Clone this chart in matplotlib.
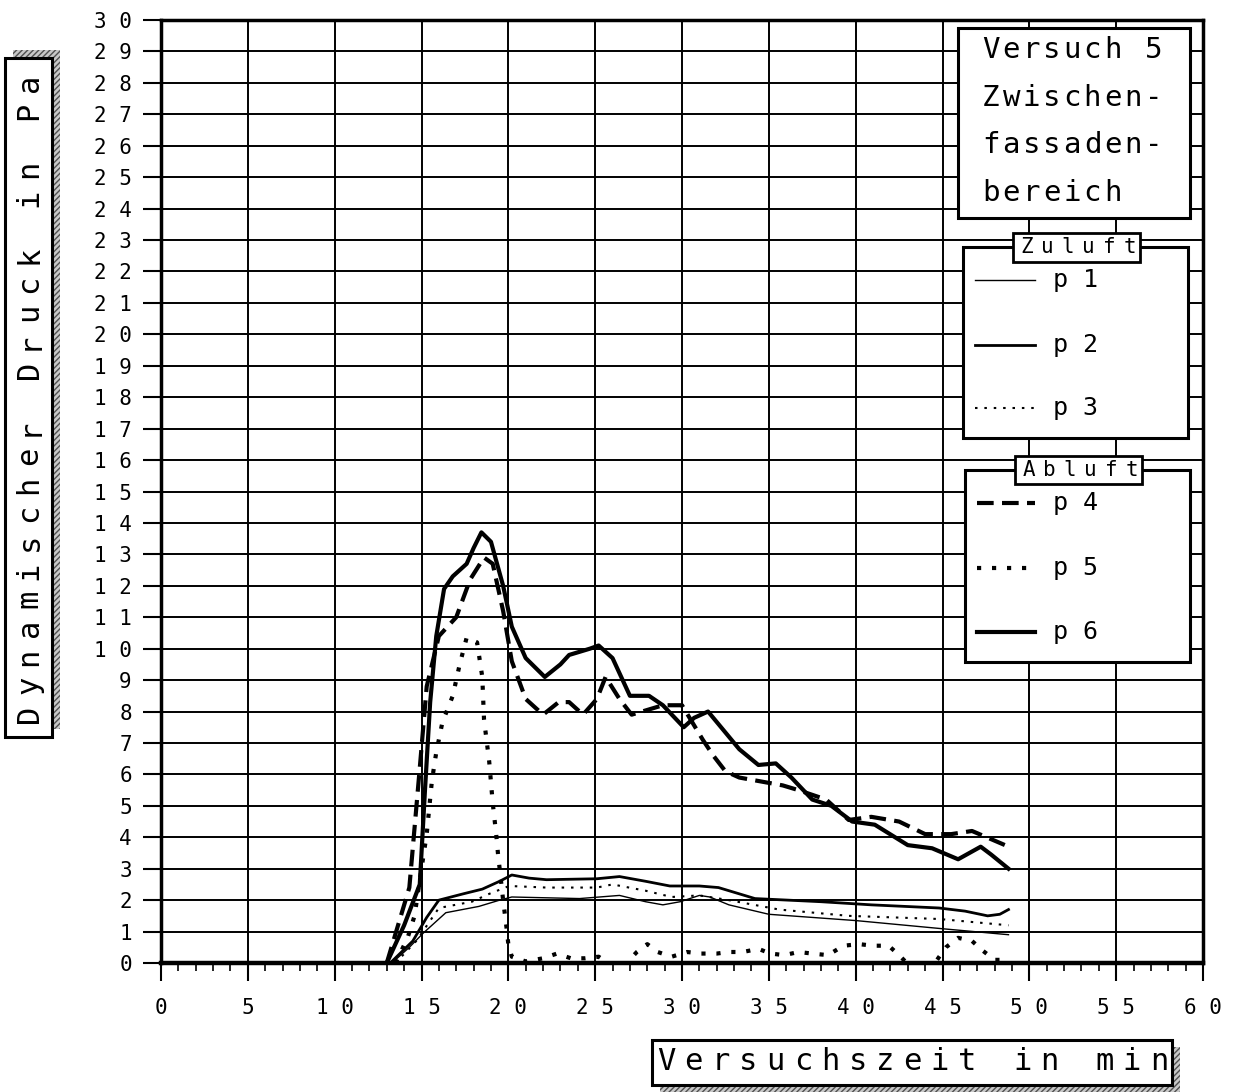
import matplotlib
matplotlib.use("Agg")
import matplotlib.pyplot as plt
from matplotlib.patches import Rectangle
from matplotlib.lines import Line2D

# ---------------- data ----------------
p1_t = [13.3, 14.3, 15.1, 16.4, 18.3, 19.5, 20.2, 24.1, 26.4, 27.9, 28.9, 29.9, 31.0, 31.6, 32.7, 35.0, 40.0, 44.8, 48.8]
p1_v = [0.0, 0.5, 0.95, 1.6, 1.8, 2.0, 2.1, 2.05, 2.15, 1.95, 1.85, 1.95, 2.15, 2.1, 1.85, 1.55, 1.35, 1.1, 0.9]

p2_t = [13.2, 14.5, 15.3, 16.0, 17.4, 18.5, 19.5, 20.2, 21.2, 22.2, 25.1, 26.4, 27.9, 29.3, 31.0, 32.1, 34.2, 38.0, 40.9, 44.8, 46.3, 47.6, 48.3, 48.8]
p2_v = [0.0, 0.7, 1.45, 2.0, 2.2, 2.35, 2.6, 2.8, 2.7, 2.65, 2.68, 2.75, 2.6, 2.45, 2.45, 2.4, 2.05, 1.95, 1.85, 1.75, 1.65, 1.5, 1.55, 1.7]

p3_t = [13.5, 14.7, 16.0, 17.9, 18.9, 20.05, 22.2, 25.1, 26.0, 27.9, 29.4, 31.0, 32.7, 35.6, 39.6, 44.8, 48.8]
p3_v = [0.0, 0.7, 1.75, 1.95, 2.2, 2.45, 2.4, 2.4, 2.5, 2.3, 2.1, 2.15, 2.0, 1.7, 1.5, 1.4, 1.2]

p4_t = [13.0, 14.3, 14.9, 15.3, 16.0, 17.0, 17.8, 18.6, 19.1, 19.7, 20.2, 21.0, 22.0, 22.9, 23.5, 24.3, 25.1, 25.6, 26.4, 27.1,
        28.9, 30.0, 31.2, 31.8, 32.5, 33.3, 35.8, 36.7, 38.3, 39.6, 40.9, 42.5, 44.0, 45.5, 46.7, 48.6]
p4_v = [0.0, 2.4, 6.2, 8.8, 10.4, 11.0, 12.2, 12.9, 12.7, 11.2, 9.6, 8.4, 7.9, 8.3, 8.3, 7.9, 8.4, 9.1, 8.4, 7.9,
        8.2, 8.2, 7.1, 6.6, 6.1, 5.9, 5.65, 5.5, 5.2, 4.55, 4.65, 4.5, 4.1, 4.1, 4.2, 3.75]

p5_t = [13.5, 14.2, 14.6, 15.0, 15.3, 15.6, 15.85, 16.2, 16.8, 17.2, 17.6, 18.2, 18.5, 18.6, 18.9, 19.1, 19.3, 19.4, 19.7,
        19.9, 20.0, 20.2, 21.0, 22.0, 22.8, 23.6, 24.4, 25.2, 26.0, 26.8, 27.4, 28.0, 28.6, 29.4, 30.3, 31.1, 32.0, 32.7,
        33.5, 34.4, 35.1, 35.9, 36.7, 37.5, 38.4, 39.3, 40.2, 41.0, 41.9, 42.5, 43.3, 44.3, 45.2, 45.9, 46.7, 47.3, 48.0, 48.7]
p5_v = [0.0, 0.8, 1.5, 3.0, 4.1, 5.8, 6.7, 7.65, 8.5, 9.5, 10.35, 10.2, 9.1, 7.75, 6.4, 5.1, 4.1, 3.5, 2.0,
        1.1, 0.6, 0.2, 0.05, 0.15, 0.3, 0.15, 0.15, 0.2, -0.1, 0.0, 0.35, 0.6, 0.35, 0.2, 0.35, 0.3, 0.3, 0.35,
        0.35, 0.45, 0.3, 0.25, 0.35, 0.3, 0.25, 0.55, 0.6, 0.55, 0.55, 0.25, -0.2, -0.2, 0.5, 0.8, 0.7, 0.4, 0.1, 0.1]

p6_t = [13.0, 14.0, 14.9, 15.2, 15.5, 15.85, 16.3, 16.8, 17.6, 18.0, 18.45, 19.0, 19.4, 19.7, 20.2, 21.0, 22.1, 23.0, 23.5,
        24.7, 25.2, 26.0, 27.0, 28.1, 28.9, 30.1, 30.7, 31.5, 32.7, 33.3, 34.4, 35.4, 36.3, 37.5, 38.6, 39.8, 41.1, 43.0,
        44.4, 45.9, 47.2, 47.8, 48.8]
p6_v = [0.0, 1.2, 2.5, 5.5, 8.3, 10.4, 11.9, 12.3, 12.7, 13.2, 13.7, 13.4, 12.6, 12.0, 10.7, 9.7, 9.1, 9.5, 9.8,
        10.0, 10.1, 9.7, 8.5, 8.5, 8.2, 7.5, 7.8, 8.0, 7.2, 6.8, 6.3, 6.35, 5.9, 5.2, 5.0, 4.5, 4.4, 3.75,
        3.65, 3.3, 3.7, 3.45, 3.0]

x_ticks = list(range(0, 61, 5))
x_tick_labels = ["0", "5", "1 0", "1 5", "2 0", "2 5", "3 0", "3 5", "4 0", "4 5", "5 0", "5 5", "6 0"]
y_ticks = list(range(0, 31))
y_tick_labels = [str(v) if v < 10 else f"{v // 10} {v % 10}" for v in y_ticks]

series_names = ["p 1", "p 2", "p 3", "p 4", "p 5", "p 6"]
title_lines = ["Versuch 5", "Zwischen-", "fassaden-", "bereich"]
group_titles = ["Zuluft", "Abluft"]
x_label = "Versuchszeit in min"
y_label = "Dynamischer Druck in Pa"

# ---------------- styles ----------------
styles = [
    dict(color="black", lw=1.0, ls="-"),
    dict(color="black", lw=2.0, ls="-"),
    dict(color="black", lw=1.5, ls=(0, (1.2, 3.3)), dash_capstyle="butt"),
    dict(color="black", lw=3.0, ls=(0, (4, 2)), dash_capstyle="butt"),
    dict(color="black", lw=3.0, ls=(0, (1, 2.6)), dash_capstyle="butt"),
    dict(color="black", lw=3.0, ls="-"),
]

W, H = 1234, 1092
MONO = "DejaVu Sans Mono"
plt.rcParams["font.family"] = [MONO, "DejaVu Sans"]

fig = plt.figure(figsize=(W / 100, H / 100), dpi=100)
fig.patch.set_facecolor("white")
ax = fig.add_axes([161 / W, 1 - 963 / H, (1203 - 161) / W, (963 - 20) / H])

series = [(p1_t, p1_v), (p2_t, p2_v), (p3_t, p3_v), (p4_t, p4_v), (p5_t, p5_v), (p6_t, p6_v)]
for (t, v), st in zip(series, styles):
    ax.plot(t, v, solid_joinstyle="round", zorder=3, **st)

ax.set_xlim(0, 60)
ax.set_ylim(0, 30)
ax.set_xticks(x_ticks)
ax.set_xticklabels(x_tick_labels, fontsize=15, family=MONO)
ax.set_xticks(range(0, 61), minor=True)
ax.set_yticks(y_ticks)
ax.set_yticklabels(y_tick_labels, fontsize=15, family=MONO)
ax.tick_params(axis="x", which="major", direction="out", length=13, width=1.5, pad=12)
ax.tick_params(axis="x", which="minor", direction="out", length=6, width=1.2)
ax.tick_params(axis="y", which="major", direction="out", length=13, width=1.5, pad=8)
ax.grid(True, which="major", color="black", lw=1.4)
for side, sp in ax.spines.items():
    sp.set_linewidth(2.5)
ax.spines["bottom"].set_linewidth(3.2)


def fx(x):
    return x / W


def fy(y):
    return 1 - y / H


def box(x1, y1, x2, y2, lw=2.2, z=5, shadow=None):
    if shadow is not None:
        dx, dy = shadow
        sh = Rectangle((fx(x1 + dx), fy(y2 + dy)), (x2 - x1) / W, (y2 - y1) / H,
                       transform=fig.transFigure, facecolor="#c8c8c8", edgecolor="#505050",
                       hatch="//////", lw=0, zorder=z - 0.5)
        fig.add_artist(sh)
    r = Rectangle((fx(x1), fy(y2)), (x2 - x1) / W, (y2 - y1) / H, transform=fig.transFigure,
                  facecolor="white", edgecolor="black", lw=lw, zorder=z)
    fig.add_artist(r)


def spaced(x0, y0, s, pitch, size, rot=0, z=7):
    for i, ch in enumerate(s):
        if ch == " ":
            continue
        if rot == 0:
            fig.text(fx(x0 + i * pitch), fy(y0), ch, ha="center", va="center",
                     fontsize=size, family=MONO, zorder=z)
        else:
            fig.text(fx(x0), fy(y0 - i * pitch), ch, ha="center", va="center",
                     fontsize=size, family=MONO, rotation=90, zorder=z)


# title box
box(958, 28, 1190, 218)
for i, line in enumerate(title_lines):
    spaced(991, 50 + i * 47.7, line, 20.3, 21)

# Zuluft group
box(963, 247, 1188, 438)
box(1013, 233, 1140, 262, lw=2.0, z=6)
spaced(1027, 247, group_titles[0], 20.5, 15)
# Abluft group
box(965, 470, 1190, 662)
box(1015, 456, 1142, 484, lw=2.0, z=6)
spaced(1029, 470, group_titles[1], 20.5, 15)

legend_y = [280, 345, 408, 503, 568, 632]
for k, (name, st, ly) in enumerate(zip(series_names, styles, legend_y)):
    x_start = 975 if k < 3 else 977
    ln = Line2D([fx(x_start), fx(1035)], [fy(ly), fy(ly)], transform=fig.transFigure, zorder=8, **st)
    fig.add_artist(ln)
    fig.text(fx(1053), fy(ly), name, ha="left", va="center", fontsize=18, family=MONO, zorder=8)

# y-axis label box
box(5, 58, 52, 737, shadow=(8, -8))
spaced(29, 714, y_label, 28.7, 22, rot=90)

# x-axis label box
box(652, 1040, 1172, 1085, shadow=(8, 7))
spaced(666, 1062, x_label, 27.4, 22)

fig.savefig("out.png", dpi=100, facecolor="white")
